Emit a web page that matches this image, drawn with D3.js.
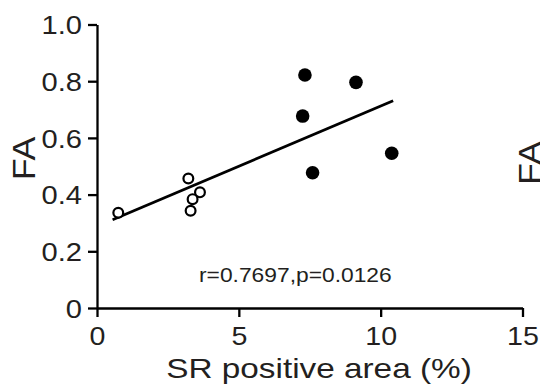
<!DOCTYPE html>
<html><head><meta charset="utf-8">
<script src="https://cdn.jsdelivr.net/npm/d3@7"></script>
<style>
html,body{margin:0;padding:0;background:#fff;}
svg{display:block;}
text{font-family:"Liberation Sans",Arial,Helvetica,sans-serif;fill:#231f20;}
</style></head>
<body>
<script>
// Data
const openX = [0.75, 3.22, 3.63, 3.37, 3.30];
const openY = [0.336, 0.457, 0.408, 0.384, 0.343];
const filledX = [7.33, 9.13, 7.25, 10.39, 7.60];
const filledY = [0.822, 0.796, 0.677, 0.546, 0.477];
const fitX = [0.55, 10.44];
const fitY = [0.311, 0.731];
const xTicks = [0, 5, 10, 15];
const yTicks = [0, 0.2, 0.4, 0.6, 0.8, 1.0];
const yTickLabels = ["0", "0.2", "0.4", "0.6", "0.8", "1.0"];
const xLabel = "SR positive area (%)";
const yLabel = "FA";
const annotation = "r=0.7697,p=0.0126";

const W = 540, H = 388;
const svg = d3.select("body").append("svg").attr("width", W).attr("height", H);

const x = d3.scaleLinear().domain([0, 15]).range([97, 522.5]);
const y = d3.scaleLinear().domain([0, 1]).range([308, 24.5]);

function stretch(sel, f) {
  sel.each(function () {
    const len = this.getComputedTextLength();
    d3.select(this).attr("textLength", len * f).attr("lengthAdjust", "spacingAndGlyphs");
  });
}

// Axes
const yAxis = svg.append("g").attr("transform", `translate(${x(0)},0)`)
  .call(d3.axisLeft(y).tickValues(yTicks).tickFormat((d, i) => yTickLabels[i]).tickSize(9).tickPadding(6).tickSizeOuter(0));
const xAxis = svg.append("g").attr("transform", `translate(0,${y(0)})`)
  .call(d3.axisBottom(x).tickValues(xTicks).tickFormat(d3.format("d")).tickSize(9).tickPadding(10).tickSizeOuter(0));

[yAxis, xAxis].forEach(g => {
  g.select(".domain").attr("stroke", "#000").attr("stroke-width", 2.3);
  g.selectAll(".tick line").attr("stroke", "#000").attr("stroke-width", 2.3);
  g.selectAll(".tick text").attr("font-size", 26).attr("fill", "#231f20")
    .attr("font-family", '"Liberation Sans",Arial,sans-serif');
});
yAxis.selectAll(".tick text").attr("dy", "0.36em");
xAxis.selectAll(".tick text").attr("dy", "0.71em");
stretch(yAxis.selectAll(".tick text"), 1.12);
stretch(xAxis.selectAll(".tick text"), 1.1);

// Regression line
svg.append("path")
  .datum(fitX.map((v, i) => [v, fitY[i]]))
  .attr("d", d3.line().x(d => x(d[0])).y(d => y(d[1])))
  .attr("stroke", "#000").attr("stroke-width", 2.8).attr("fill", "none");

// Points
svg.append("g").selectAll("circle").data(filledX.map((v, i) => [v, filledY[i]]))
  .join("circle").attr("cx", d => x(d[0])).attr("cy", d => y(d[1])).attr("r", 6.8).attr("fill", "#000");
svg.append("g").selectAll("circle").data(openX.map((v, i) => [v, openY[i]]))
  .join("circle").attr("cx", d => x(d[0])).attr("cy", d => y(d[1])).attr("r", 4.9)
  .attr("fill", "#fff").attr("stroke", "#000").attr("stroke-width", 2.2);

// Annotation
const ann = svg.append("text").attr("x", 199).attr("y", 282).attr("font-size", 20).text(annotation);
stretch(ann, 1.14);

// X title
const xt = svg.append("text").attr("x", 319).attr("y", 378).attr("text-anchor", "middle")
  .attr("font-size", 28).text(xLabel);
stretch(xt, 1.19);

// Y title
const yt = svg.append("text").attr("transform", "translate(35,158.4) rotate(-90)")
  .attr("text-anchor", "middle").attr("font-size", 32).text(yLabel);
stretch(yt, 1.12);

// Next panel's Y title (partially visible at right edge, as in the reference)
const yt2 = svg.append("text").attr("transform", "translate(541,163) rotate(-90)")
  .attr("text-anchor", "middle").attr("font-size", 32).text(yLabel);
stretch(yt2, 1.12);
</script>
</body></html>
